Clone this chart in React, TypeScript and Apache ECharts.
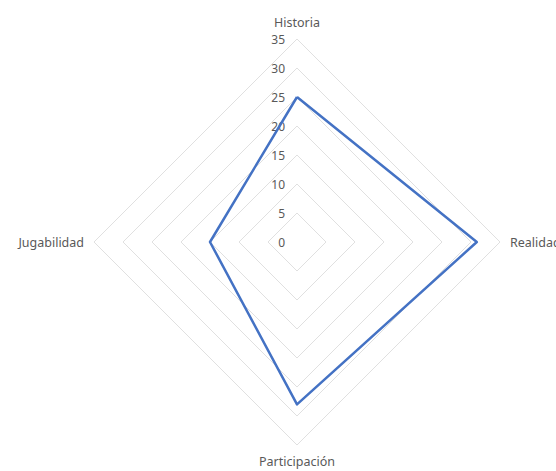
import React, { useEffect, useRef } from "react";
import * as echarts from "echarts";

const categories = ["Historia", "Jugabilidad", "Participación", "Realidad"];
const values = [25, 15, 28, 31];
const axisMax = 35;
const tickStep = 5;

export default function App() {
  const ref = useRef<HTMLDivElement>(null);
  useEffect(() => {
    if (!ref.current) return;
    const chart = echarts.init(ref.current, null, { renderer: "svg" });
    chart.setOption({
      animation: false,
      backgroundColor: "#ffffff",
      radar: {
        center: [297, 242],
        radius: 203,
        startAngle: 90,
        shape: "polygon",
        splitNumber: axisMax / tickStep,
        nameGap: 10,
        axisName: {
          color: "#595959",
          fontSize: 12.5,
          fontFamily: "Noto Sans",
        },
        axisLine: { show: false },
        axisTick: { show: false },
        splitArea: { show: false },
        splitLine: { lineStyle: { color: "#e0e0e0", width: 1 } },
        axisLabel: { show: false },
        indicator: categories.map((c, i) => ({
          name: c,
          min: 0,
          max: axisMax,
          ...(i === 0
            ? {
                axisLabel: {
                  show: true,
                  color: "#595959",
                  fontSize: 12,
                  fontFamily: "Noto Sans",
                  margin: 12,
                },
              }
            : {}),
        })),
      },
      series: [
        {
          type: "radar",
          symbol: "none",
          lineStyle: { color: "#4472C4", width: 2.5 },
          data: [{ value: values }],
        },
      ],
    });
    return () => chart.dispose();
  }, []);
  return (
    <div
      ref={ref}
      style={{ position: "absolute", left: 0, top: 0, width: 556, height: 471 }}
    />
  );
}
